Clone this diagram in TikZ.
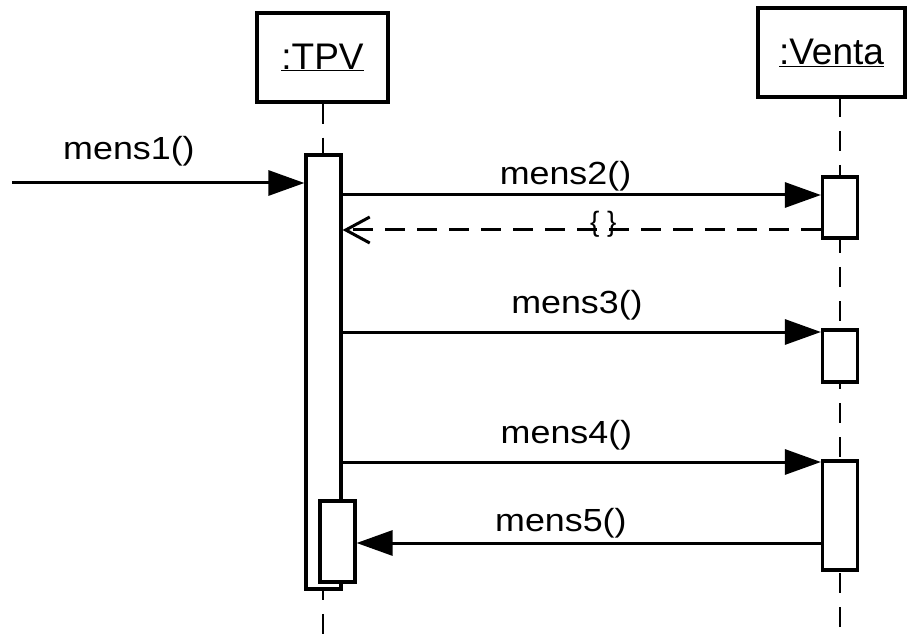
\documentclass[tikz,border=0pt]{standalone}
\usepackage{fontspec}
\setmainfont{Liberation Sans}
\usetikzlibrary{arrows.meta, positioning}

\tikzset{
  obj/.style={draw, line width=3.5pt, minimum height=89pt, font=\fontsize{37}{42}\selectfont},
  act/.style={draw, fill=white, line width=3.2pt, minimum width=35pt, inner sep=0pt},
  life/.style={line width=2pt, dash pattern=on 20pt off 14pt},
  msg/.style={line width=3pt, -{Triangle[length=36pt,width=25pt]}},
  ret/.style={line width=3pt, dash pattern=on 20pt off 12pt, -{Straight Barb[length=24pt,width=26pt,line width=3pt]}},
  lbl/.style={font=\fontsize{32}{36}\selectfont, xscale=1.12, inner sep=0pt}
}

\begin{document}
\begin{tikzpicture}[x=1pt, y=-1pt]
    \useasboundingbox (0,0) rectangle (907,636);

    \node[obj, minimum width=131pt] (tpv) at (322.5,57.5) {\underline{:TPV}};
    \node[obj, minimum width=147pt] (venta) at (831.5,52.5) {\underline{:Venta}};
    \coordinate (vtop) at (840,97);

    \draw[life] (tpv.south) -- (tpv.south |- 0,636);
    \draw[life] (vtop) -- (vtop |- 0,636);

    \node[act, minimum height=434pt] (A0) at (323.5,372) {};
    \node[act, minimum height=81pt] (A1) at (337.5,541.5) {};
    \node[act, minimum height=61pt] (B1) at (840,207.5) {};
    \node[act, minimum height=52pt] (B2) at (840,356) {};
    \node[act, minimum height=109pt] (B3) at (840,515.5) {};

    \coordinate (src) at (12,183);
    \draw[msg] (src) -- node[lbl, above=15pt, pos=0.40] {mens1()} (A0.west |- src);
    \draw[msg] (A0.east |- 0,195) -- node[lbl, above=2pt, pos=0.466] {mens2()} (B1.west |- 0,195);
    \draw[ret] (B1.west |- 0,230) -- node[pos=0.455, yshift=6pt, font=\fontsize{28}{30}\selectfont] {\{ \}} (A0.east |- 0,230);
    \draw[msg] (A0.east |- 0,332) -- node[lbl, above=10pt, pos=0.49] {mens3()} (B2.west |- 0,332);
    \draw[msg] (A0.east |- 0,462) -- node[lbl, above=10pt, pos=0.468] {mens4()} (B3.west |- 0,462);
    \draw[msg] (B3.west |- 0,543) -- node[lbl, above=3pt, pos=0.56] {mens5()} (A1.east |- 0,543);
\end{tikzpicture}
\end{document}
